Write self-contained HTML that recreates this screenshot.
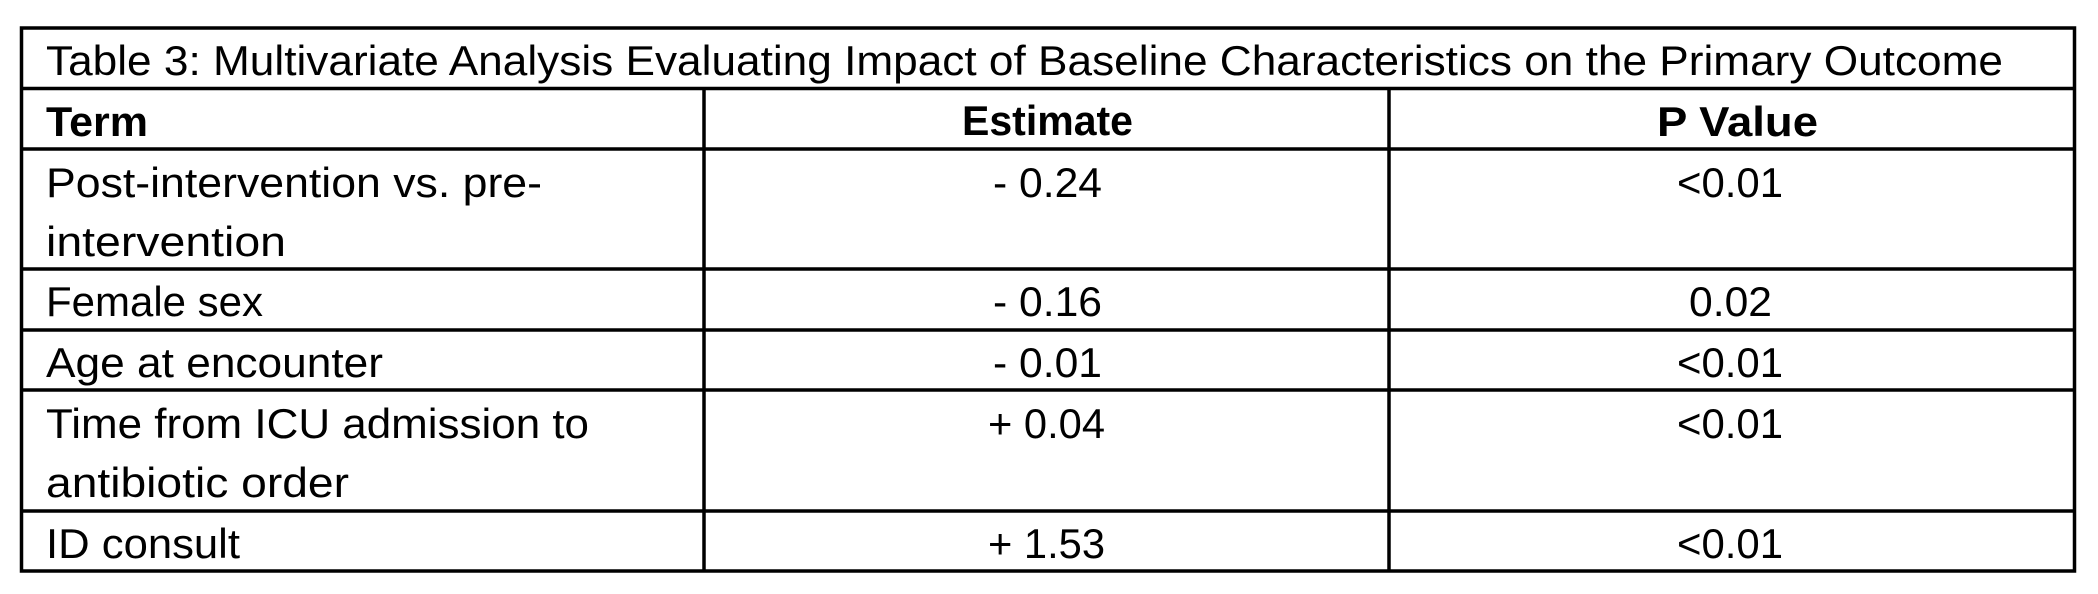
<!DOCTYPE html>
<html><head><meta charset="utf-8"><style>
html,body{margin:0;padding:0;background:#fff;width:2098px;height:594px;overflow:hidden}
svg text{font-family:"Liberation Sans",sans-serif;font-size:42px;fill:#000}
.b{font-weight:bold}
</style></head><body>
<svg width="2098" height="594" viewBox="0 0 2098 594">
<g stroke="#000" stroke-width="3.5" fill="none">
<rect x="21.5" y="28" width="2053" height="543"/>
<line x1="21" y1="88.5" x2="2075" y2="88.5"/>
<line x1="21" y1="149" x2="2075" y2="149"/>
<line x1="21" y1="269" x2="2075" y2="269"/>
<line x1="21" y1="330" x2="2075" y2="330"/>
<line x1="21" y1="390" x2="2075" y2="390"/>
<line x1="21" y1="511" x2="2075" y2="511"/>
<line x1="704" y1="88" x2="704" y2="571"/>
<line x1="1389" y1="88" x2="1389" y2="571"/>
</g>
<text x="46" y="75" textLength="1957" lengthAdjust="spacingAndGlyphs">Table 3: Multivariate Analysis Evaluating Impact of Baseline Characteristics on the Primary Outcome</text>
<text class="b" x="46" y="136" textLength="102" lengthAdjust="spacingAndGlyphs">Term</text>
<text class="b" x="962" y="135" textLength="171" lengthAdjust="spacingAndGlyphs">Estimate</text>
<text class="b" x="1657" y="136" textLength="161" lengthAdjust="spacingAndGlyphs">P Value</text>

<text x="46" y="197" textLength="496" lengthAdjust="spacingAndGlyphs">Post-intervention vs. pre-</text>
<text x="46" y="256" textLength="240" lengthAdjust="spacingAndGlyphs">intervention</text>
<text x="993" y="197" textLength="109" lengthAdjust="spacingAndGlyphs">- 0.24</text>
<text x="1677" y="197" textLength="106" lengthAdjust="spacingAndGlyphs">&lt;0.01</text>

<text x="46" y="316" textLength="217" lengthAdjust="spacingAndGlyphs">Female sex</text>
<text x="993" y="316" textLength="109" lengthAdjust="spacingAndGlyphs">- 0.16</text>
<text x="1689" y="316" textLength="83" lengthAdjust="spacingAndGlyphs">0.02</text>

<text x="46" y="377" textLength="337" lengthAdjust="spacingAndGlyphs">Age at encounter</text>
<text x="993" y="377" textLength="109" lengthAdjust="spacingAndGlyphs">- 0.01</text>
<text x="1677" y="377" textLength="106" lengthAdjust="spacingAndGlyphs">&lt;0.01</text>

<text x="46" y="438" textLength="543" lengthAdjust="spacingAndGlyphs">Time from ICU admission to</text>
<text x="46" y="497" textLength="303" lengthAdjust="spacingAndGlyphs">antibiotic order</text>
<text x="988" y="438" textLength="117" lengthAdjust="spacingAndGlyphs">+ 0.04</text>
<text x="1677" y="438" textLength="106" lengthAdjust="spacingAndGlyphs">&lt;0.01</text>

<text x="46" y="558" textLength="194" lengthAdjust="spacingAndGlyphs">ID consult</text>
<text x="988" y="558" textLength="117" lengthAdjust="spacingAndGlyphs">+ 1.53</text>
<text x="1677" y="558" textLength="106" lengthAdjust="spacingAndGlyphs">&lt;0.01</text>
</svg>
</body></html>
